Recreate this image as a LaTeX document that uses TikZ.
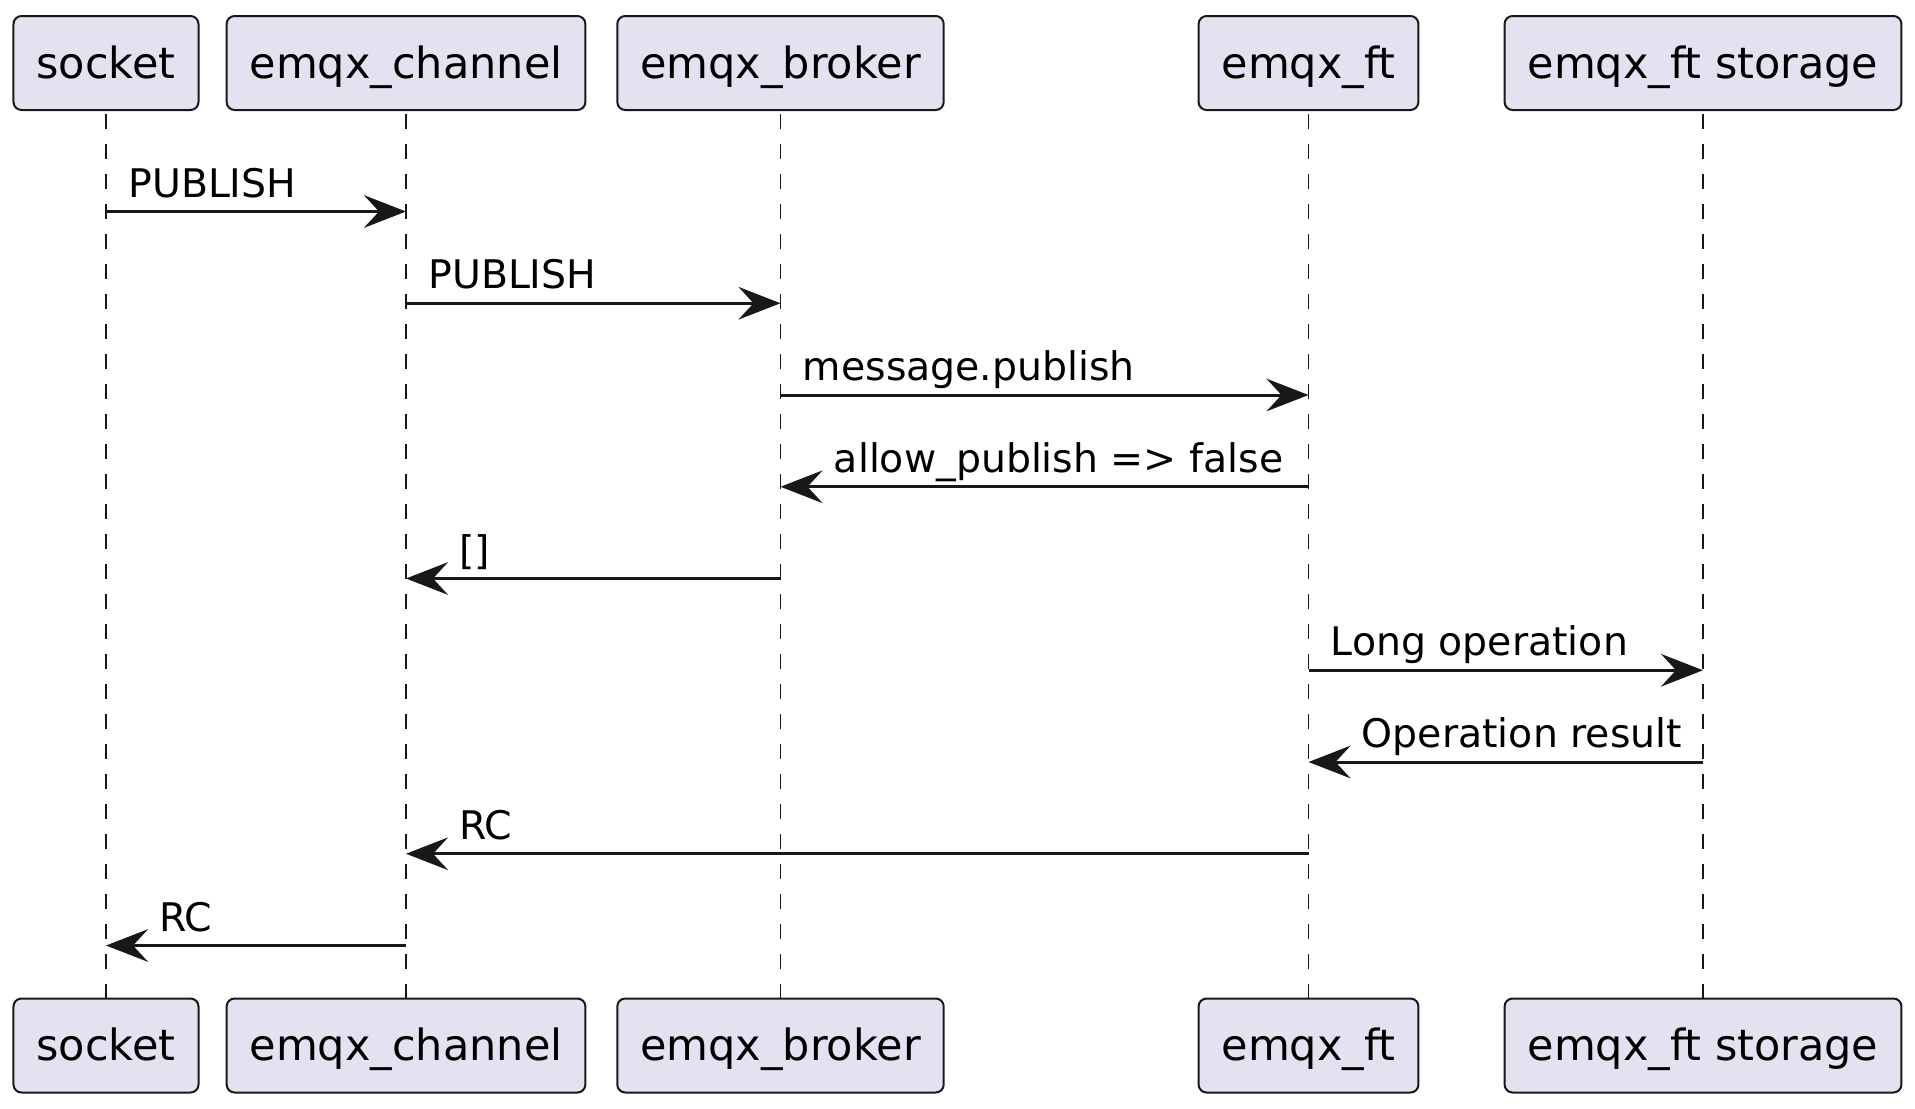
\documentclass[tikz,border=0pt]{standalone}
\usepackage{fontspec}
\setmainfont{DejaVu Sans}
\usetikzlibrary{%
	calc,%
	arrows.meta%
}
\definecolor{partfill}{HTML}{E2E2F0}
\definecolor{partline}{HTML}{181818}
\newcommand{\partfont}{\fontsize{21.5pt}{25pt}\selectfont}
\newcommand{\msgfont}{\fontsize{19.7pt}{23pt}\selectfont}
\tikzset{
	participant/.style={draw=partline, fill=partfill, line width=1pt,
		rounded corners=4pt, minimum height=47pt, inner xsep=11.5pt,
		inner ysep=0pt, text height=18pt, text depth=3pt, font=\partfont},
	lifeline/.style={draw=partline, line width=0.75pt, dash pattern=on 7.5pt off 7.5pt,
		shorten <=1.5pt},
	msg/.style={draw=partline, line width=1.5pt,
		-{Stealth[length=21pt, width=16.3pt, inset=7.5pt]}},
	msglabel/.style={inner sep=0pt, anchor=base west, font=\msgfont}
}

\begin{document}
\begin{tikzpicture}[x=0.5pt, y=-0.5pt]
				\useasboundingbox (0,0) rectangle (1915,1108);
				
				% Participants and lifelines
				\foreach \name/\x/\txt in {socket/106/socket, channel/406/emqx\_channel,
					broker/780.5/emqx\_broker, ft/1308.5/emqx\_ft, storage/1703/emqx\_ft storage}
				{
					\node[participant] (\name-top) at (\x,63) {\txt};
					\node[participant] (\name-bot) at (\x,1045.5) {\txt};
					\draw[lifeline] (\name-top.south) -- (\name-bot.north);
				}
				
				% Message rows
				\foreach \i/\y in {1/211.5,2/303.25,3/395,4/486.75,5/578.5,6/670.25,7/762,8/853.75,9/945.5}
				\coordinate (r\i) at (0,\y);
				
				\draw[msg] (socket-top |- r1) -- (channel-top |- r1);
				\node[msglabel] (m1) at ([xshift=11pt, yshift=7.25pt]socket-top |- r1) {PUBLISH};
				
				\draw[msg] (channel-top |- r2) -- (broker-top |- r2);
				\node[msglabel] (m2) at ([xshift=11pt, yshift=7.25pt]channel-top |- r2) {PUBLISH};
				
				\draw[msg] (broker-top |- r3) -- (ft-top |- r3);
				\node[msglabel] (m3) at ([xshift=11pt, yshift=7.25pt]broker-top |- r3) {message.publish};
				
				\draw[msg] (ft-top |- r4) -- (broker-top |- r4);
				\node[msglabel] (m4) at ([xshift=26.5pt, yshift=7.25pt]broker-top |- r4) {allow\_publish => false};
				
				\draw[msg] (broker-top |- r5) -- (channel-top |- r5);
				\node[msglabel] (m5) at ([xshift=26.5pt, yshift=7.25pt]channel-top |- r5) {[]};
				
				\draw[msg] (ft-top |- r6) -- (storage-top |- r6);
				\node[msglabel] (m6) at ([xshift=11pt, yshift=7.25pt]ft-top |- r6) {Long operation};
				
				\draw[msg] (storage-top |- r7) -- (ft-top |- r7);
				\node[msglabel] (m7) at ([xshift=26.5pt, yshift=7.25pt]ft-top |- r7) {Operation result};
				
				\draw[msg] (ft-top |- r8) -- (channel-top |- r8);
				\node[msglabel] (m8) at ([xshift=26.5pt, yshift=7.25pt]channel-top |- r8) {RC};
				
				\draw[msg] (channel-top |- r9) -- (socket-top |- r9);
				\node[msglabel] (m9) at ([xshift=26.5pt, yshift=7.25pt]socket-top |- r9) {RC};
			\end{tikzpicture}
\end{document}
